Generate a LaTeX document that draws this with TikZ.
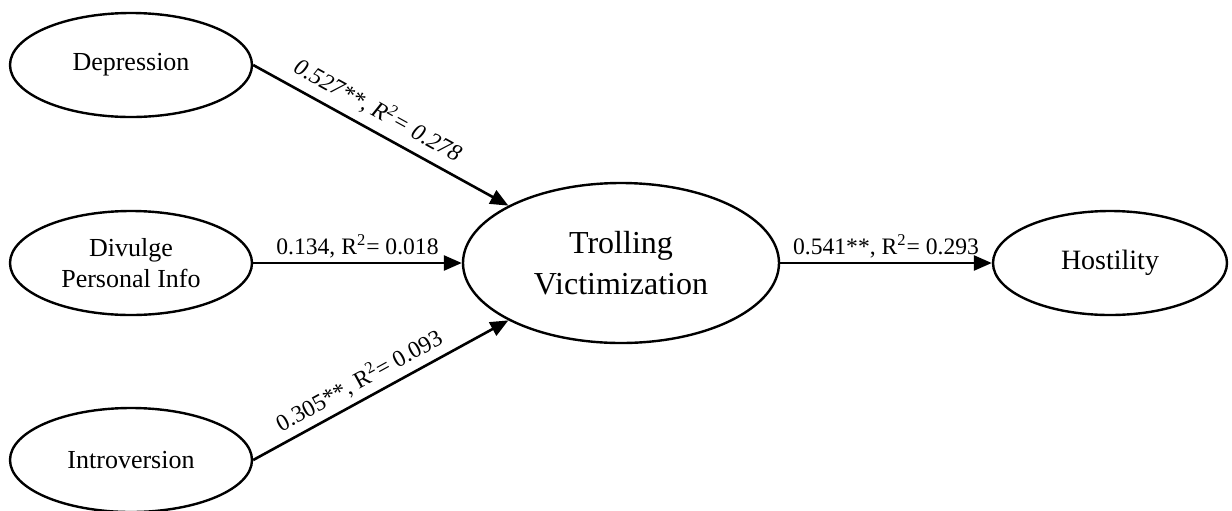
\documentclass[tikz,border=0pt]{standalone}
\usepackage{fontspec}
\setmainfont{Liberation Serif}
\usetikzlibrary{arrows.meta,shapes.geometric}

\tikzset{
    construct/.style={ellipse, draw, line width=1.2pt, minimum width=121pt, minimum height=52pt, align=center, font=\fontsize{13}{15.5}\selectfont},
    path/.style={line width=1.3pt, -{Triangle[length=9pt, width=7.5pt]}},
    coef/.style={font=\fontsize{11.8}{13}\selectfont, inner sep=2pt}
}

\begin{document}
\begin{tikzpicture}[x=0.5pt, y=-0.5pt]
    \useasboundingbox (0,0) rectangle (1232,510);
    \node[construct] (depression) at (131,65) {Depression};
    \node[construct] (divulge) at (131,263) {Divulge\\Personal Info};
    \node[construct] (introversion) at (131,460) {Introversion};
    \node[construct, minimum width=158pt, minimum height=80pt, font=\fontsize{16}{20.5}\selectfont] (trolling) at (621,263) {Trolling\\Victimization};
    \node[construct, minimum width=117pt, font=\fontsize{14}{16}\selectfont] (hostility) at (1110,263) {Hostility};
    \draw[path] (depression.east) -- node[coef, sloped, above, pos=0.45, inner sep=4pt, font=\fontsize{11.8}{13}\selectfont\itshape] {0.527**, R\textsuperscript{2}= 0.278} (trolling.153);
    \draw[path] (divulge.east) -- node[coef, above] {0.134, R\textsuperscript{2}= 0.018} (trolling.west);
    \draw[path] (introversion.east) -- node[coef, sloped, above, pos=0.45, inner sep=3pt] {0.305**, R\textsuperscript{2}= 0.093} (trolling.207);
    \draw[path] (trolling.east) -- node[coef, above] {0.541**, R\textsuperscript{2}= 0.293} (hostility.west);
\end{tikzpicture}
\end{document}
